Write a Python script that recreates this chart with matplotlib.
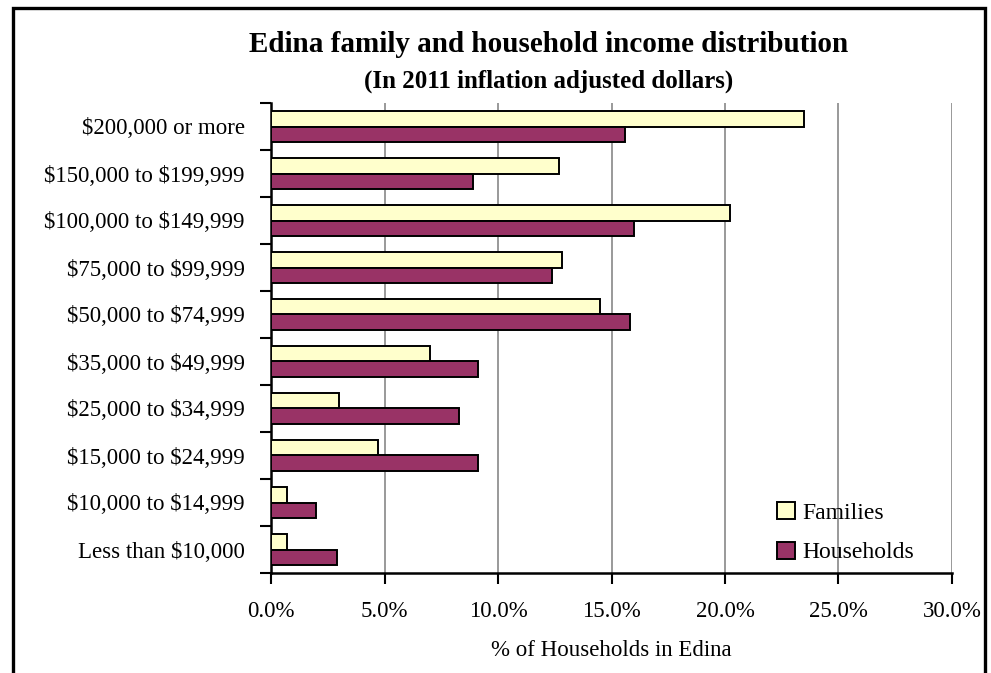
import matplotlib
matplotlib.use('Agg')
import matplotlib.pyplot as plt
from matplotlib.patches import Patch, Rectangle
from matplotlib.ticker import FuncFormatter
import numpy as np

plt.rcParams['font.family'] = ['Liberation Serif', 'DejaVu Serif']
plt.rcParams['text.parse_math'] = False

# income brackets, top of chart first
brackets = ['$200,000 or more', '$150,000 to $199,999', '$100,000 to $149,999',
            '$75,000 to $99,999', '$50,000 to $74,999', '$35,000 to $49,999',
            '$25,000 to $34,999', '$15,000 to $24,999', '$10,000 to $14,999',
            'Less than $10,000']
families = [23.5, 12.7, 20.2, 12.8, 14.5, 7.0, 3.0, 4.7, 0.7, 0.7]
households = [15.6, 8.9, 16.0, 12.4, 15.8, 9.1, 8.3, 9.1, 2.0, 2.9]
xticks = [0, 5, 10, 15, 20, 25, 30]

fam_color = '#FFFFCC'
hh_color = '#993366'

fig = plt.figure(figsize=(9.91, 6.73), dpi=100)

# outer chart frame (runs off the bottom edge)
fig.patches.append(Rectangle((13 / 991, -0.05), 972 / 991, 1.05 - 8 / 673,
                             transform=fig.transFigure, fill=False,
                             edgecolor='black', linewidth=2.4, zorder=0))

ax = fig.add_axes([271 / 991, 1 - 573 / 673, 681 / 991, 470 / 673])

n = len(brackets)
y = np.arange(n)[::-1]
h = 0.34
ax.barh(y + h / 2, families, height=h, color=fam_color, edgecolor='black',
        linewidth=1.4, zorder=3, label='Families')
ax.barh(y - h / 2, households, height=h, color=hh_color, edgecolor='black',
        linewidth=1.4, zorder=3, label='Households')

ax.set_xlim(0, 30)
ax.set_ylim(-0.5, n - 0.5)
ax.set_xticks(xticks)
ax.xaxis.set_major_formatter(FuncFormatter(lambda v, p: f'{v:.1f}%'))
ax.grid(axis='x', color='#999999', linewidth=1.4, zorder=0)

# tick marks sit between brackets, labels at bracket centres
ax.set_yticks(np.arange(-0.5, n, 1.0))
ax.set_yticklabels([])
ax.set_yticks(y, minor=True)
ax.set_yticklabels(brackets, minor=True, fontsize=16.5)
ax.tick_params(axis='y', which='minor', length=0, pad=19)
ax.tick_params(axis='y', which='major', direction='out', length=8, width=1.5)
ax.tick_params(axis='x', direction='out', length=8, width=1.5, labelsize=16.5, pad=12)

for s in ['top', 'right']:
    ax.spines[s].set_visible(False)
for s in ['left', 'bottom']:
    ax.spines[s].set_linewidth(1.8)

ax.set_xlabel('% of Households in Edina', fontsize=16.5, labelpad=13)

handles = [Patch(facecolor=fam_color, edgecolor='black', linewidth=1.4),
           Patch(facecolor=hh_color, edgecolor='black', linewidth=1.4)]
ax.legend(handles, ['Families', 'Households'], loc='lower right',
          bbox_to_anchor=(0.975, -0.025), frameon=False, fontsize=17,
          handlelength=0.75, handleheight=0.75, handletextpad=0.3,
          labelspacing=0.75)

fig.text(549 / 991, 1 - 44 / 673, 'Edina family and household income distribution',
         ha='center', va='center', fontsize=21, fontweight='bold')
fig.text(549 / 991, 1 - 81 / 673, '(In 2011 inflation adjusted dollars)',
         ha='center', va='center', fontsize=18, fontweight='bold')

fig.savefig('out.png', dpi=100)
